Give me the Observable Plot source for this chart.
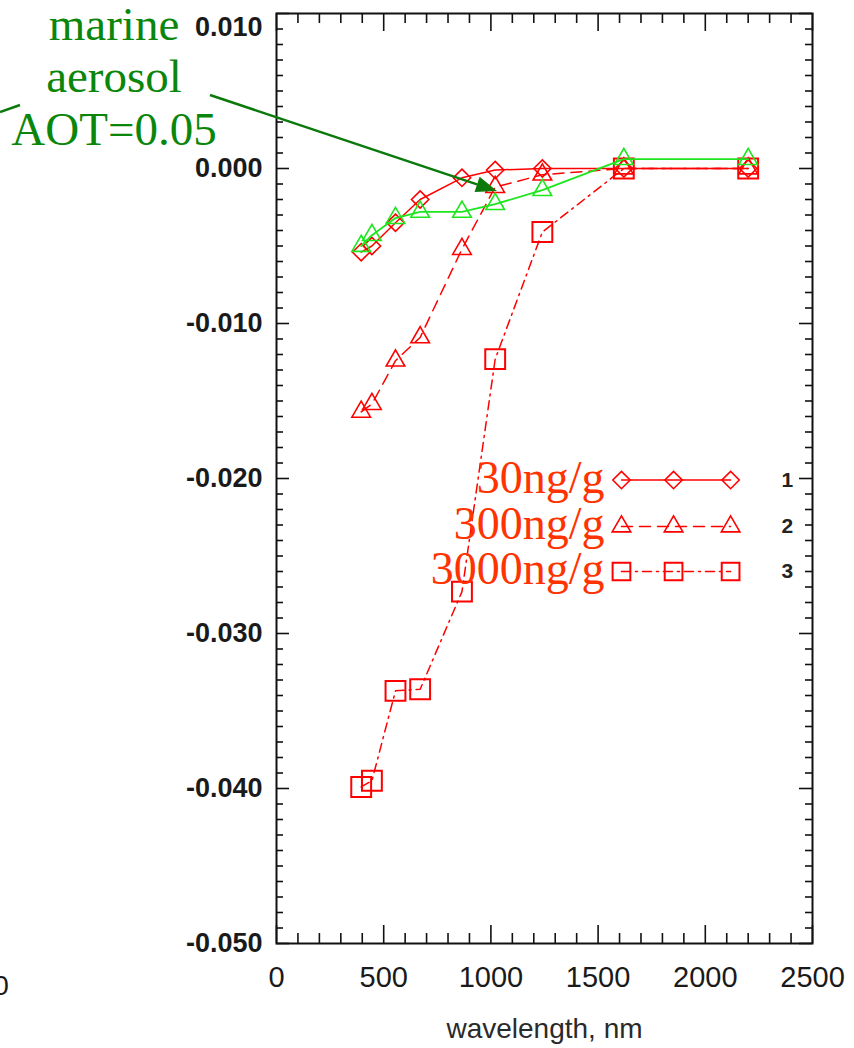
<!DOCTYPE html>
<html><head><meta charset="utf-8">
<script src="https://cdn.jsdelivr.net/npm/d3@7"></script>
<script src="https://cdn.jsdelivr.net/npm/@observablehq/plot@0.6"></script>
<style>body{margin:0;background:#fff;overflow:hidden}#chart svg{display:block}</style>
</head><body><div id="chart"></div>
<script>
// ---- data ----
const wavelengths = [395, 445, 555, 670, 865, 1020, 1240, 1620, 2200];
const series1 = [-0.0054, -0.0050, -0.0035, -0.0020, -0.0006, -0.0001, 0.0000, 0.0000, 0.0000]; // 30ng/g
const series2 = [-0.0157, -0.0152, -0.0124, -0.0109, -0.0052, -0.0012, -0.0004, 0.0000, 0.0000]; // 300ng/g
const series3 = [-0.0399, -0.0395, -0.0337, -0.0336, -0.0273, -0.0123, -0.0041, 0.0000, 0.0000]; // 3000ng/g
const marine  = [-0.0050, -0.0043, -0.0032, -0.0028, -0.0028, -0.0023, -0.0014, 0.0006, 0.0006]; // marine aerosol AOT=0.05
const xTicks = [0, 500, 1000, 1500, 2000, 2500];
const yTicks = [-0.05, -0.04, -0.03, -0.02, -0.01, 0, 0.01];
const legendLabels = ["30ng/g", "300ng/g", "3000ng/g"];
const legendNumbers = ["1", "2", "3"];
const annotationLines = ["marine", "aerosol", "AOT=0.05"];
const xLabel = "wavelength, nm";

// ---- build ----
const W = 854, H = 1048;
const mTop = 13, mRight = 42, mBottom = 105, mLeft = 276;
const innerW = W - mLeft - mRight, innerH = H - mTop - mBottom;
const RED = "#ff0000", GREEN = "#1ee61e";
const styles = [
  {data: series1, symbol: "diamond2", r: 7.8, dash: null, sw: 1.6},
  {data: series2, symbol: "triangle", r: 6.9, dash: "11,7", sw: 1.6},
  {data: series3, symbol: "square", r: 11.2, dash: "9,5,2,5", sw: 2}
];
const toRows = arr => wavelengths.map((w, i) => ({w, v: arr[i]}));

const xMinor = d3.range(0, 2501, 100).filter(d => d % 500 !== 0);
const yMinor = d3.range(-50, 11).map(i => i / 1000).filter((d, i) => (i % 10) !== 0);
const fmtY = d => (Math.abs(d) < 1e-12 ? 0 : d).toFixed(3);

// legend geometry (in data units of the chart)
const legX = [1609, 1852, 2118];
const legY = [-0.0201, -0.0231, -0.0260];

const marks = [];
// ticks (inward, IDL style)
const tk = {stroke: "#111", strokeWidth: 1.6};
marks.push(Plot.tickX(xTicks, {x: d => d, insetTop: innerH - 18, ...tk}));
marks.push(Plot.tickX(xTicks, {x: d => d, insetBottom: innerH - 18, ...tk}));
marks.push(Plot.tickX(xMinor, {x: d => d, insetTop: innerH - 10, ...tk}));
marks.push(Plot.tickX(xMinor, {x: d => d, insetBottom: innerH - 10, ...tk}));
marks.push(Plot.tickY(yTicks, {y: d => d, insetRight: innerW - 13, ...tk}));
marks.push(Plot.tickY(yTicks, {y: d => d, insetLeft: innerW - 13, ...tk}));
marks.push(Plot.tickY(yMinor, {y: d => d, insetRight: innerW - 7, ...tk}));
marks.push(Plot.tickY(yMinor, {y: d => d, insetLeft: innerW - 7, ...tk}));
marks.push(Plot.frame({stroke: "#111", strokeWidth: 2}));
// tick labels
marks.push(Plot.text(xTicks, {x: d => d, frameAnchor: "bottom", dy: 43, text: d => String(d), fontSize: 29, fill: "#1a1a1a"}));
marks.push(Plot.text(yTicks.filter(d => d < 0.005), {y: d => d, frameAnchor: "left", dx: -14, textAnchor: "end", text: fmtY, fontSize: 27, fontWeight: "bold", fill: "#1a1a1a"}));
marks.push(Plot.text(yTicks.filter(d => d > 0.005), {y: d => d, frameAnchor: "left", dx: -14, dy: 14, textAnchor: "end", text: fmtY, fontSize: 27, fontWeight: "bold", fill: "#1a1a1a"}));
marks.push(Plot.text([xLabel], {frameAnchor: "bottom", dy: 94, text: d => d, fontSize: 28, fill: "#2a2a2a"}));

// data series
styles.forEach(s => {
  marks.push(Plot.line(toRows(s.data), {x: "w", y: "v", stroke: RED, strokeWidth: 1.5, strokeDasharray: s.dash}));
  marks.push(Plot.dot(toRows(s.data), {x: "w", y: "v", symbol: s.symbol, r: s.r, stroke: RED, strokeWidth: s.sw, fill: "none"}));
});
marks.push(Plot.line(toRows(marine), {x: "w", y: "v", stroke: GREEN, strokeWidth: 1.8}));
marks.push(Plot.dot(toRows(marine), {x: "w", y: "v", symbol: "triangle", r: 6.9, stroke: GREEN, strokeWidth: 1.6, fill: "none"}));

// legend
styles.forEach((s, i) => {
  const pts = legX.map(x => ({x, y: legY[i]}));
  marks.push(Plot.line(pts, {x: "x", y: "y", stroke: RED, strokeWidth: 1.5, strokeDasharray: s.dash}));
  marks.push(Plot.dot(pts, {x: "x", y: "y", symbol: s.symbol, r: s.symbol === "square" ? 10 : s.r, stroke: RED, strokeWidth: s.sw, fill: "none"}));
});
marks.push(Plot.text(legendLabels, {x: 1530, y: (d, i) => legY[i], dy: -2, text: d => d, textAnchor: "end", fontFamily: "Liberation Serif", fontSize: 46, fill: "#ff3300"}));
marks.push(Plot.text(legendNumbers, {x: 2383, y: (d, i) => legY[i], text: d => d, fontSize: 21, fontWeight: "bold", fill: "#222"}));

const plot = Plot.plot({
  width: W, height: H,
  marginTop: mTop, marginRight: mRight, marginBottom: mBottom, marginLeft: mLeft,
  x: {domain: [0, 2500], axis: null},
  y: {domain: [-0.05, 0.01], axis: null},
  style: {fontFamily: "Liberation Sans", background: "white", overflow: "visible"},
  marks
});
document.getElementById("chart").appendChild(plot);

// ---- annotation overlay (green text + arrow) ----
const svg = d3.select(plot);
const g = svg.append("g");
const ann = g.append("text").attr("font-family", "Liberation Serif").attr("font-size", 47)
  .attr("fill", "#0a860a").attr("text-anchor", "middle");
[40, 92, 145].forEach((yb, i) => ann.append("tspan").attr("x", 114).attr("y", yb).text(annotationLines[i]));
const ARROW = "#0b7a0b";
const p0 = [210, 95], tip = [497, 191];
const dx = tip[0] - p0[0], dy = tip[1] - p0[1], L = Math.hypot(dx, dy), ux = dx / L, uy = dy / L;
const hl = 21, hw = 8;
const base = [tip[0] - hl * ux, tip[1] - hl * uy];
g.append("line").attr("x1", p0[0]).attr("y1", p0[1]).attr("x2", base[0]).attr("y2", base[1])
  .attr("stroke", ARROW).attr("stroke-width", 2.5);
g.append("path").attr("d", `M${tip}L${base[0] - hw * uy},${base[1] + hw * ux}L${base[0] + hw * uy},${base[1] - hw * ux}Z`).attr("fill", ARROW);
g.append("line").attr("x1", 0).attr("y1", 112).attr("x2", 20).attr("y2", 105).attr("stroke", ARROW).attr("stroke-width", 2.5);
g.append("text").attr("x", 1).attr("y", 995).attr("font-family", "Liberation Sans").attr("font-size", 28).attr("fill", "#1a1a1a").text("0");
</script></body></html>
